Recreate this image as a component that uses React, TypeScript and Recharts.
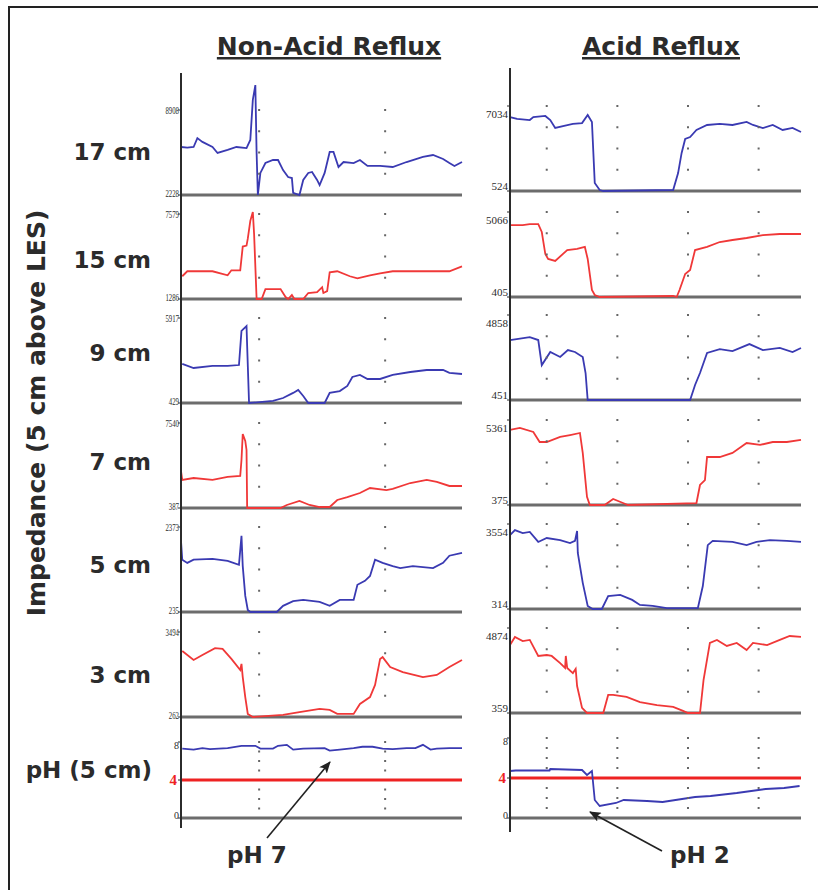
import React from 'react';
import { ComposedChart, Line, Scatter, XAxis, YAxis, ReferenceLine } from 'recharts';

type Pt = [number, number];

// [time (s), impedance (ohm)] read from the tracings
const nonAcid17: Pt[] = [[0,6000],[0.5,5950],[1.0,6000],[1.3,6700],[1.7,6400],[2.5,6000],[2.9,5530],[3.7,5770],[4.4,6000],[5.2,5920],[5.5,6550],[5.7,9700],[5.9,10870],[6.0,5530],[6.1,2228],[6.3,3960],[6.7,4740],[7.3,4980],[7.7,4980],[8.1,4190],[8.5,3640],[8.8,3560],[8.9,2390],[9.4,2228],[9.7,3410],[10.1,3960],[10.4,4040],[10.8,3410],[11.0,3010],[11.4,3960],[11.8,5610],[12.1,5610],[12.5,4430],[12.9,4820],[13.7,4740],[14.2,4980],[14.8,4510],[15.8,4510],[16.8,4430],[17.9,4820],[19.2,5220],[20.0,5370],[20.8,5060],[21.3,4740],[21.7,4510],[22.3,4820]];
const nonAcid15: Pt[] = [[0.1,2970],[0.5,3340],[1.7,3340],[2.5,3340],[3.7,3040],[4.0,3410],[4.7,3410],[4.9,5170],[5.2,5240],[5.3,5750],[5.5,7070],[5.7,7730],[5.8,6120],[6.0,1286],[6.4,1286],[6.7,2020],[7.9,2020],[8.3,1430],[8.5,1286],[8.8,1580],[9.0,1286],[9.7,1286],[10.1,1730],[10.8,1800],[11.2,2160],[11.3,1730],[11.6,1870],[11.8,3260],[12.4,3340],[13.4,2970],[14.0,2820],[15.0,3040],[15.8,3190],[16.8,3340],[19.5,3340],[21.3,3340],[22.3,3700]];
const nonAcid9: Pt[] = [[0.1,2950],[1.0,2690],[2.5,2820],[3.7,2820],[4.6,2880],[4.8,5080],[5.2,5400],[5.25,4110],[5.4,429],[7.3,560],[8.1,750],[8.9,1080],[9.3,1270],[9.7,880],[10.1,429],[11.4,429],[11.8,1080],[12.6,1200],[13.2,1530],[13.6,2110],[14.2,2240],[14.8,1980],[15.8,1980],[16.8,2240],[18.2,2430],[19.5,2560],[20.8,2560],[21.3,2370],[22.3,2300]];
const nonAcid7: Pt[] = [[0,3500],[0.1,2750],[1.0,2910],[2.5,2750],[3.7,3000],[4.7,3080],[4.8,4430],[4.9,6620],[5.1,6030],[5.2,5270],[5.25,387],[7.9,387],[8.4,640],[9.4,980],[10.2,640],[11.0,470],[11.8,470],[12.4,1060],[13.2,1310],[14.2,1650],[15.0,2070],[16.3,1900],[16.8,1990],[18.2,2490],[19.5,2750],[20.3,2580],[21.3,2240],[22.3,2240]];
const nonAcid5: Pt[] = [[0,2020],[0.1,1550],[0.5,1470],[1.0,1550],[2.5,1570],[3.7,1520],[4.6,1420],[4.8,2150],[4.9,1390],[5.1,640],[5.3,285],[5.5,235],[7.6,235],[8.1,390],[8.9,510],[9.7,540],[11.0,490],[11.8,390],[12.6,540],[13.7,540],[14.0,920],[14.6,1020],[15.0,1140],[15.4,1550],[16.0,1470],[16.8,1390],[17.4,1340],[18.4,1390],[20.0,1340],[20.8,1470],[21.3,1650],[22.3,1720]];
const nonAcid3: Pt[] = [[0.1,2770],[1.0,2430],[1.7,2620],[2.7,2880],[3.3,2850],[4.0,2470],[4.7,2050],[4.8,2280],[4.9,1780],[5.1,1020],[5.3,380],[5.7,262],[8.1,340],[9.4,450],[11.0,570],[11.8,530],[12.4,380],[13.7,380],[14.2,760],[15.0,1020],[15.4,1480],[15.8,2470],[16.0,2540],[16.6,2160],[17.6,1970],[19.2,1780],[20.3,1860],[21.3,2160],[22.3,2430]];
const phNonAcid: Pt[] = [[0.1,7.3],[1.0,7.2],[1.7,7.35],[2.3,7.25],[3.7,7.35],[4.8,7.6],[5.9,7.6],[6.3,7.3],[7.3,7.3],[7.7,7.6],[8.4,7.7],[8.9,7.2],[9.7,7.3],[11.4,7.35],[11.8,7.1],[12.6,7.2],[13.7,7.35],[14.4,7.5],[15.2,7.5],[16.0,7.3],[16.8,7.25],[17.9,7.35],[18.6,7.35],[19.2,7.7],[19.8,7.2],[20.3,7.3],[21.3,7.35],[22.3,7.35]];

const acid17: Pt[] = [[0,6190],[1.0,6040],[2.8,5960],[3.3,6190],[5.0,6270],[5.7,5960],[6.4,5350],[7.5,5500],[8.9,5660],[10.2,5730],[11.0,6350],[11.6,5810],[12.0,1140],[12.7,600],[13.2,524],[23.1,600],[23.8,1900],[24.3,3440],[24.8,4510],[25.5,4660],[26.4,5200],[27.9,5580],[29.7,5660],[31.5,5580],[33.5,5810],[34.4,5580],[35.8,5350],[37.2,5580],[38.6,5200],[40.0,5350],[41.2,5040]];
const acid15: Pt[] = [[0,4350],[1.8,4350],[2.8,4400],[4.0,4400],[4.5,3970],[5.0,2760],[5.4,2490],[6.4,2380],[8.1,2980],[9.5,3040],[10.6,3150],[11.0,2490],[11.6,790],[12.0,515],[12.7,405],[23.1,460],[23.6,405],[24.0,790],[24.8,1670],[25.5,1890],[26.2,2980],[27.9,3150],[29.7,3420],[31.5,3530],[33.5,3640],[35.8,3800],[38.2,3860],[41.2,3860]];
const acid9: Pt[] = [[0,3560],[2.8,3710],[4.0,3560],[4.5,2260],[5.7,2940],[7.1,2680],[8.2,3040],[9.2,2940],[10.3,2680],[10.7,1850],[11.0,451],[25.5,451],[26.2,1230],[26.9,1850],[27.9,2890],[29.7,3090],[31.5,2990],[33.9,3350],[35.8,3040],[38.2,3150],[40.0,2940],[41.2,3150]];
const acid7: Pt[] = [[0,4780],[1.4,4900],[3.3,4660],[4.2,4070],[5.2,4070],[7.1,4370],[8.5,4480],[9.9,4600],[10.3,3430],[10.9,850],[11.3,375],[13.4,375],[14.6,730],[16.0,490],[16.7,375],[26.4,490],[26.9,1550],[27.6,1840],[27.9,3190],[29.7,3190],[31.5,3430],[33.5,4010],[35.4,3900],[37.2,4070],[39.2,4070],[41.2,4190]];
const acid5: Pt[] = [[0,3130],[0.7,3320],[1.8,3210],[2.8,3250],[4.0,2870],[5.2,3020],[7.1,2940],[8.5,2830],[9.2,2910],[9.5,3290],[9.6,2450],[10.3,1310],[11.0,430],[11.7,314],[13.0,314],[13.9,810],[15.6,850],[17.3,660],[18.4,470],[20.2,430],[22.2,350],[26.6,350],[27.3,1190],[28.0,2750],[28.7,2910],[31.5,2870],[33.5,2750],[34.9,2870],[36.8,2940],[39.2,2910],[41.2,2870]];
const acid3: Pt[] = [[0,3970],[0.7,4400],[1.8,4180],[2.8,4240],[4.0,3390],[5.2,3440],[5.9,3390],[7.1,3010],[7.8,2750],[7.9,3390],[8.1,2750],[8.9,2480],[9.3,2700],[9.5,1790],[10.2,630],[10.9,359],[13.2,359],[13.9,1320],[14.6,1320],[16.5,1210],[18.4,940],[20.8,780],[23.1,680],[24.5,470],[25.2,359],[26.9,359],[27.4,2110],[28.3,4080],[29.3,4240],[30.7,3920],[32.1,4080],[33.5,3700],[34.4,4080],[36.4,3970],[38.2,4240],[39.6,4450],[41.2,4400]];
const phAcid: Pt[] = [[0,4.7],[0.8,4.75],[5.6,4.75],[5.7,4.9],[10.2,4.8],[10.9,4.3],[11.6,4.7],[12.0,1.8],[12.7,1.2],[15.0,1.5],[16.1,1.8],[19.4,1.7],[21.6,1.6],[26.2,2.1],[28.4,2.2],[32.1,2.5],[36.2,2.9],[38.8,3.0],[41.0,3.2]];

const rowLabels = ['17 cm', '15 cm', '9 cm', '7 cm', '5 cm', '3 cm'];
const nonAcidSeries = [nonAcid17, nonAcid15, nonAcid9, nonAcid7, nonAcid5, nonAcid3];
const acidSeries = [acid17, acid15, acid9, acid7, acid5, acid3];
const nonAcidTicks = [[2228, 8908], [1286, 7579], [429, 5917], [387, 7540], [235, 2373], [262, 3494]];
const acidTicks = [[524, 7034], [405, 5066], [451, 4858], [375, 5361], [314, 3554], [359, 4874]];
const phTicks = [0, 4, 8];
const phThreshold = 4;
const nonAcidGridTimes = [6.2, 16.2];
const acidGridTimes = [5.2, 15.2, 25.2, 35.2];
const phGridLevels = [1, 2, 3, 5, 6, 7, 8];

const BLUE = '#3a3ab2';
const RED = '#f03838';
const INK = '#2b2b2b';
const rowColors = [BLUE, RED, BLUE, RED, BLUE, RED];

// layout
const LEFT = { axisX: 181, plotW: 281, tMax: 22.3, bases: [195, 299, 403, 508, 612, 717], phBase: 818, phSpan: 76, narrow: true };
const RIGHT = { axisX: 510, plotW: 291, tMax: 41.2, bases: [191, 297, 400, 505, 609, 713], phBase: 818, phSpan: 80, narrow: false };
const Y_W = 34;
const SPAN = 85;

interface PanelProps {
  points: Pt[];
  color: string;
  axisX: number;
  base: number;
  plotW: number;
  tMax: number;
  ticks: number[];
  span: number;
  headroom: number;
  gridTimes: number[];
  gridLevels: number[];
  narrow: boolean;
  ph?: boolean;
}

const Panel = ({ points, color, axisX, base, plotW, tMax, ticks, span, headroom, gridTimes, gridLevels, narrow, ph }: PanelProps) => {
  const lo = ticks[0];
  const hi = ticks[ticks.length - 1];
  const plotH = span + headroom;
  const yMax = lo + ((hi - lo) * plotH) / span;
  const data = points.map(([t, v]) => ({ t, v }));
  const baseline = [{ t: 0, v: lo }, { t: tMax, v: lo }];
  const dots = gridTimes.flatMap((t) => gridLevels.map((v) => ({ t, v })));

  const renderTick = (p: any) => {
    const v = p.payload.value;
    const x = p.x + 3;
    const label = String(v);
    if (ph) {
      if (v === phThreshold) {
        return (
          <text x={x - 2} y={p.y + 5} textAnchor="end" fontFamily="Liberation Serif" fontWeight="bold" fontSize={15} fill="#ee2222">
            {label}
          </text>
        );
      }
      return (
        <text x={x} y={v === hi ? p.y + 7 : p.y + 1} textAnchor="end" fontFamily="Liberation Serif" fontSize={10} fill={INK}>
          {label}
        </text>
      );
    }
    if (narrow) {
      return (
        <text x={x} y={v === hi ? p.y + 4 : p.y + 2} textAnchor="end" fontFamily="Liberation Serif" fontSize={10} fill={INK}
          textLength={label.length * 3.4} lengthAdjust="spacingAndGlyphs">
          {label}
        </text>
      );
    }
    return (
      <text x={x} y={v === hi ? p.y + 12 : p.y - 1} textAnchor="end" fontFamily="Liberation Serif" fontSize={11} fill={INK}>
        {label}
      </text>
    );
  };

  const renderDot = (p: any) => <rect x={p.cx - 1} y={p.cy - 1} width={2} height={2} fill="#666" />;

  return (
    <div style={{ position: 'absolute', left: axisX - Y_W, top: base - plotH }}>
      <ComposedChart width={Y_W + plotW + 4} height={plotH + 4} margin={{ top: 0, right: 4, bottom: 4, left: 0 }}>
        <XAxis type="number" dataKey="t" domain={[0, tMax]} hide />
        <YAxis type="number" domain={[lo, yMax]} ticks={ticks} interval={0} width={Y_W} axisLine={false}
          tickLine={{ stroke: INK }} tickSize={3} tick={renderTick} />
        {ph && <ReferenceLine y={phThreshold} stroke="#ee2222" strokeWidth={3} />}
        <Scatter data={dots} dataKey="v" shape={renderDot} isAnimationActive={false} />
        <Line data={baseline} dataKey="v" stroke="#6c6c6c" strokeWidth={3} dot={false} isAnimationActive={false} />
        <Line data={data} dataKey="v" type="linear" stroke={color} strokeWidth={1.8} dot={false} isAnimationActive={false} />
      </ComposedChart>
    </div>
  );
};

const sideCharts = (side: typeof LEFT, series: Pt[][], ticks: number[][], gridTimes: number[], phData: Pt[]) => (
  <>
    {series.map((pts, i) => {
      const [lo, hi] = ticks[i];
      return (
        <Panel key={i} points={pts} color={rowColors[i]} axisX={side.axisX} base={side.bases[i]} plotW={side.plotW}
          tMax={side.tMax} ticks={[lo, hi]} span={SPAN} headroom={i === 0 ? 32 : 18} gridTimes={gridTimes}
          gridLevels={[1, 2, 3, 4].map((k) => lo + ((hi - lo) * k) / 4)} narrow={side.narrow} />
      );
    })}
    <Panel points={phData} color={BLUE} axisX={side.axisX} base={side.phBase} plotW={side.plotW} tMax={side.tMax}
      ticks={phTicks} span={side.phSpan} headroom={8} gridTimes={gridTimes} gridLevels={phGridLevels} narrow={side.narrow} ph />
  </>
);

const labelFont = { fontFamily: 'DejaVu Sans', fontWeight: 'bold' as const, fill: INK };
const rowBaselines = [160, 268, 361, 470, 573, 683];

export default function App() {
  return (
    <div style={{ position: 'absolute', left: 0, top: 0, width: 818, height: 890, background: '#fff', overflow: 'hidden' }}>
      {sideCharts(LEFT, nonAcidSeries, nonAcidTicks, nonAcidGridTimes, phNonAcid)}
      {sideCharts(RIGHT, acidSeries, acidTicks, acidGridTimes, phAcid)}
      <svg width={818} height={890} style={{ position: 'absolute', left: 0, top: 0, pointerEvents: 'none' }}>
        <defs>
          <marker id="arrowHead" markerWidth={12} markerHeight={10} refX={11} refY={5} orient="auto" markerUnits="userSpaceOnUse">
            <path d="M0,0 L12,5 L0,10 L3,5 z" fill="#222" />
          </marker>
        </defs>
        <path d="M9 890 V7 H818" stroke="#222" strokeWidth={2} fill="none" />
        <line x1={LEFT.axisX} y1={73} x2={LEFT.axisX} y2={828} stroke={INK} strokeWidth={2} />
        <line x1={RIGHT.axisX} y1={68} x2={RIGHT.axisX} y2={832} stroke={INK} strokeWidth={2} />

        <text x={329} y={55} textAnchor="middle" fontSize={25} style={{ textDecoration: 'underline' }} {...labelFont}>
          Non-Acid Reflux
        </text>
        <text x={661} y={55} textAnchor="middle" fontSize={25} style={{ textDecoration: 'underline' }} {...labelFont}>
          Acid Reflux
        </text>

        <text x={45} y={413} transform="rotate(-90 45 413)" textAnchor="middle" fontSize={25} {...labelFont}>
          Impedance (5 cm above LES)
        </text>

        {rowLabels.map((r, i) => (
          <text key={r} x={151} y={rowBaselines[i]} textAnchor="end" fontSize={23} {...labelFont}>
            {r}
          </text>
        ))}
        <text x={152} y={778} textAnchor="end" fontSize={23} {...labelFont}>
          pH (5 cm)
        </text>

        <line x1={267} y1={838} x2={330} y2={762} stroke="#222" strokeWidth={1.6} markerEnd="url(#arrowHead)" />
        <text x={227} y={863} fontSize={23} {...labelFont}>pH 7</text>
        <line x1={662} y1={851} x2={590} y2={812} stroke="#222" strokeWidth={1.6} markerEnd="url(#arrowHead)" />
        <text x={670} y={863} fontSize={23} {...labelFont}>pH 2</text>
      </svg>
    </div>
  );
}
